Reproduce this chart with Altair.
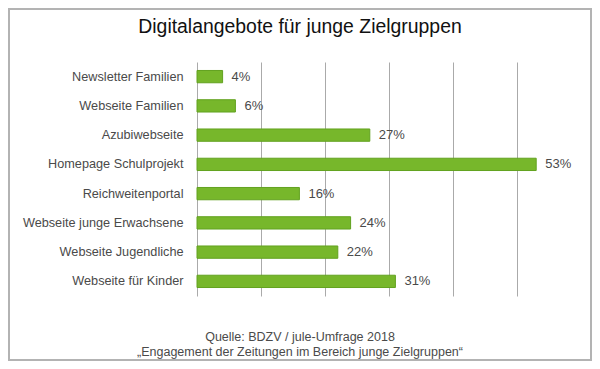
import altair as alt
import pandas as pd

categories = [
    "Newsletter Familien",
    "Webseite Familien",
    "Azubiwebseite",
    "Homepage Schulprojekt",
    "Reichweitenportal",
    "Webseite junge Erwachsene",
    "Webseite Jugendliche",
    "Webseite für Kinder",
]
values = [4, 6, 27, 53, 16, 24, 22, 31]
labels = [f"{v}%" for v in values]
grid_ticks = [0, 10, 20, 30, 40, 50]

title_text = "Digitalangebote für junge Zielgruppen"
footer_lines = [
    "Quelle: BDZV / jule-Umfrage 2018",
    "„Engagement der Zeitungen im Bereich junge Zielgruppen“",
]

df = pd.DataFrame({"cat": categories, "val": values, "label": labels})

W, H = 384, 234
PAD = {"left": 189, "top": 54, "right": 11, "bottom": 65}
FONT = "Liberation Sans"

x_enc = alt.X(
    "val:Q",
    scale=alt.Scale(domain=[0, 60], nice=False),
    axis=alt.Axis(
        values=grid_ticks, grid=True, gridColor="#aaaaaa", gridWidth=1,
        labels=False, ticks=False, domain=False, title=None,
    ),
)
y_enc = alt.Y(
    "cat:N",
    sort=None,
    scale=alt.Scale(paddingInner=0.58, paddingOuter=0.29),
    axis=alt.Axis(
        title=None, ticks=False, domain=False, labelPadding=14,
        labelFontSize=12.7, labelColor="#4a4a4a", labelFont=FONT, labelLimit=300,
    ),
)

bars = alt.Chart(df).mark_bar(
    color="#77b72b", stroke="#62a21f", strokeWidth=1
).encode(x=x_enc, y=y_enc)

texts = alt.Chart(df).mark_text(
    align="left", baseline="middle", dx=9, fontSize=13, color="#4a4a4a", font=FONT
).encode(x="val:Q", y=alt.Y("cat:N", sort=None), text="label:N")

title = alt.Chart(pd.DataFrame({"t": [title_text]})).mark_text(
    align="center", baseline="alphabetic", fontSize=19.4, color="#111111", font=FONT
).encode(x=alt.value(103), y=alt.value(-29), text="t:N")

footer = alt.Chart(pd.DataFrame({"t": footer_lines, "yy": [279, 293.5]})).mark_text(
    align="center", baseline="alphabetic", fontSize=12.5, color="#4a4a4a", font=FONT
).encode(x=alt.value(103), y=alt.Y("yy:Q", scale=None), text="t:N")

border = alt.Chart(pd.DataFrame({"a": [0]})).mark_rect(
    fill="transparent", stroke="#b3b3b3", strokeWidth=2
).encode(
    x=alt.value(-PAD["left"] + 1), x2=alt.value(W + PAD["right"] - 1),
    y=alt.value(-PAD["top"] + 1), y2=alt.value(H + PAD["bottom"] - 1),
)

chart = alt.layer(bars, texts, title, footer, border).properties(
    width=W, height=H,
    padding=PAD,
    autosize=alt.AutoSizeParams(type="none"),
    background="white",
).configure_view(stroke=None)

chart.save("out.html", embed_options={"renderer": "svg", "actions": False})
